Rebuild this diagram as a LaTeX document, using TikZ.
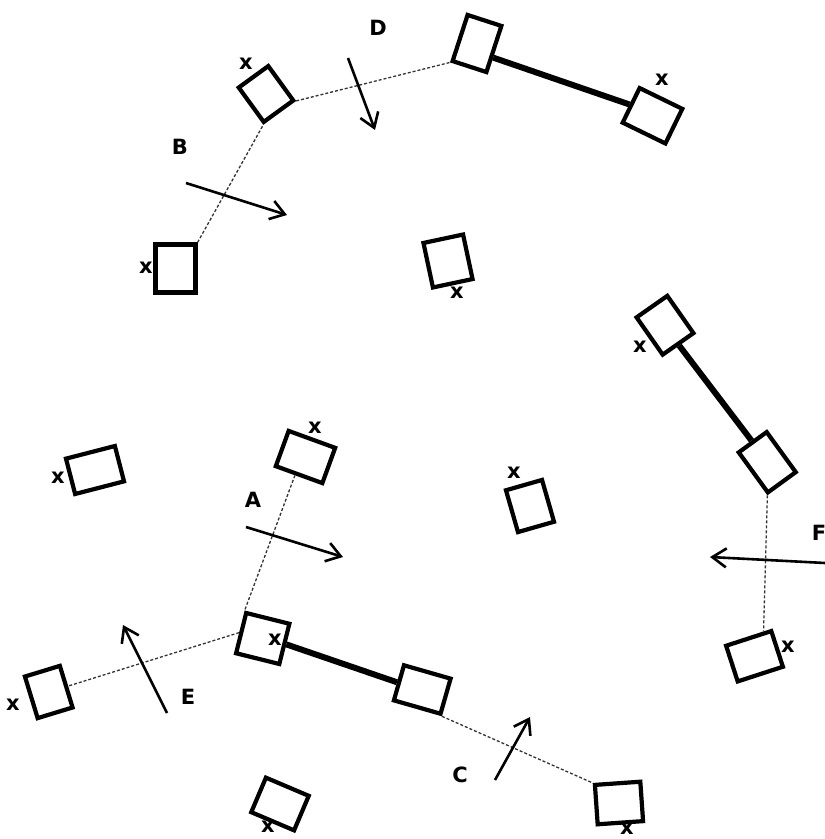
\documentclass[tikz,border=0pt]{standalone}
\usepackage{fontspec}
\setmainfont{DejaVu Sans}
\usepackage{tikz}
\usetikzlibrary{arrows.meta}
\tikzset{
  unitBox/.style={
    draw=black,
    line width=4.2pt,
    fill=white,
    inner sep=0pt
  },
  tieLine/.style={draw=black!80, line width=1.3pt, dash pattern=on 3pt off 2pt},
  barLine/.style={draw=black, line width=6pt},
  pushArrow/.style={-{Straight Barb[length=14pt,width=19pt,line width=2.6pt]}, line width=2.6pt, black},
  markLabel/.style={font=\bfseries\fontsize{21}{24}\selectfont, inner sep=0pt},
  caseLabel/.style={font=\bfseries\fontsize{21}{24}\selectfont, inner sep=0pt}
}

\begin{document}
\begin{tikzpicture}[x=1pt,y=-1pt]
  \useasboundingbox (0,0) rectangle (825,839);

  \foreach \n/\px/\py/\w/\h/\r in {
      B1/175.5/268.5/40/48/0,
      D1/266/94/36.5/42.5/36,
      D2/477/43.5/35.5/48.5/-18,
      D3/652.5/115.75/47.5/38.5/-26,
      M1/448/261/40.5/45.5/12,
      F1/665/325.25/37.5/45.5/35,
      F2/767.25/462.25/34.5/49.5/36,
      F3/754.5/656.25/47.5/37.5/18,
      L1/95/470/50.5/36.5/14.5,
      A1/305.5/457/49.5/37.5/-20,
      A2/262.75/638.5/44.5/41.5/-14,
      E1/48.75/692/36.5/43.5/17,
      C1/422.25/689.5/48.5/36.5/-16,
      C2/619/803/45.5/39.5/4,
      M2/530/506/37.5/43.5/16,
      M3/280/804/46.5/37.5/-23} {
    \node[unitBox, minimum width=\w pt, minimum height=\h pt, rotate=\r]
      (\n) at (\px,\py) {};
  }

  \draw[tieLine] (B1.north east) -- (D1.south west);
  \draw[tieLine] (D1.south east) -- (D2.south west);
  \draw[barLine] (D2.-23) -- (D3.west);
  \draw[barLine] (F1.south) -- (F2.north);
  \draw[tieLine] (F2.south west) -- (F3.52);
  \draw[tieLine] (A1.260) -- (A2.north west);
  \draw[tieLine] (A2.west) -- (E1.east);
  \draw[barLine] (A2.east) -- (C1.west);
  \draw[tieLine] (C1.south east) -- (C2.north west);

  \foreach \p/\q [count=\i] in {146/268, 246/64, 662/80, 457/293, 640/347,
      788/647, 58/478, 315/428, 275/640, 13/705, 514/473, 627/829, 268/827} {
    \node[markLabel] (x\i) at (\p,\q) {x};
  }

  \foreach \n/\sx/\sy/\ex/\ey in {A/246/527/343/557, B/186/183/287/215,
      C/495/780/530/717, D/348/58/375/130, E/167/713/123/625, F/825/563/710/557} {
    \coordinate (\n tail) at (\sx,\sy);
    \coordinate (\n head) at (\ex,\ey);
    \draw[pushArrow] (\n tail) -- (\n head);
  }

  \foreach \t/\p/\q in {A/253/500, B/180/147, C/460/775, D/378/28, E/188/697, F/819/533} {
    \node[caseLabel] (lab\t) at (\p,\q) {\t};
  }
\end{tikzpicture}
\end{document}
